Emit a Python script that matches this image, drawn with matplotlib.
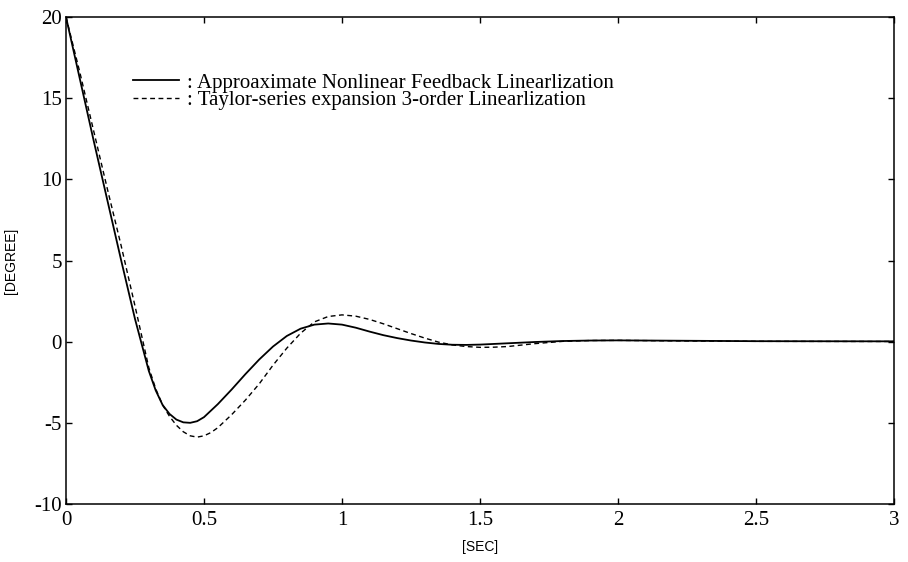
import matplotlib
matplotlib.use("Agg")
import matplotlib.pyplot as plt

plt.rcParams["axes.unicode_minus"] = False

# time in seconds, angle in degrees
t_nfl = [0.00, 0.05, 0.10, 0.15, 0.20, 0.25, 0.30, 0.325, 0.35, 0.375, 0.40, 0.425,
         0.45, 0.475, 0.50, 0.55, 0.60, 0.65, 0.70, 0.75, 0.80, 0.85, 0.90, 0.95,
         1.00, 1.05, 1.10, 1.15, 1.20, 1.25, 1.30, 1.35, 1.40, 1.45, 1.50, 1.60,
         1.70, 1.80, 1.90, 2.00, 2.20, 2.50, 3.00]
y_nfl = [20.0, 16.2, 12.4, 8.7, 5.0, 1.4, -1.8, -3.0, -3.9, -4.45, -4.8, -4.97,
         -5.0, -4.9, -4.65, -3.85, -2.95, -2.0, -1.1, -0.3, 0.35, 0.8, 1.05, 1.12,
         1.05, 0.86, 0.62, 0.4, 0.22, 0.07, -0.05, -0.14, -0.19, -0.2, -0.18, -0.1,
         -0.02, 0.04, 0.07, 0.08, 0.06, 0.03, 0.02]

t_taylor = [0.00, 0.05, 0.10, 0.15, 0.20, 0.25, 0.30, 0.325, 0.35, 0.375, 0.40, 0.425,
            0.45, 0.475, 0.50, 0.525, 0.55, 0.60, 0.65, 0.70, 0.75, 0.80, 0.85, 0.90,
            0.95, 1.00, 1.05, 1.10, 1.15, 1.20, 1.25, 1.30, 1.35, 1.40, 1.45, 1.50,
            1.55, 1.60, 1.70, 1.80, 1.90, 2.00, 2.20, 2.50, 3.00]
y_taylor = [20.0, 16.6, 13.0, 9.4, 5.9, 2.2, -1.6, -2.9, -3.9, -4.6, -5.15, -5.55,
            -5.8, -5.88, -5.8, -5.6, -5.3, -4.5, -3.6, -2.6, -1.45, -0.4, 0.52, 1.22,
            1.55, 1.65, 1.57, 1.37, 1.1, 0.8, 0.5, 0.22, -0.03, -0.2, -0.3, -0.35,
            -0.34, -0.3, -0.12, 0.02, 0.07, 0.08, 0.05, 0.02, 0.01]

labels = [": Approaximate Nonlinear Feedback Linearlization",
          ": Taylor-series expansion 3-order Linearlization"]

serif = ["Liberation Serif", "DejaVu Serif"]
sans = ["Liberation Sans", "DejaVu Sans"]

fig = plt.figure(figsize=(9.08, 5.62), dpi=100)
ax = fig.add_axes([66 / 908, 1 - 504 / 562, 828 / 908, 487 / 562])

ax.plot(t_nfl, y_nfl, color="black", lw=1.3, label=labels[0])
ax.plot(t_taylor, y_taylor, color="black", lw=1.0, dashes=(3.5, 2.5), label=labels[1])

ax.set_xlim(0, 3)
ax.set_ylim(-10, 20)
ax.set_xticks([0, 0.5, 1, 1.5, 2, 2.5, 3])
ax.set_xticklabels(["0", "0.5", "1", "1.5", "2", "2.5", "3"])
ax.set_yticks([-10, -5, 0, 5, 10, 15, 20])
ax.set_yticklabels(["-10", "-5", "0", "5", "10", "15", "20"])
ax.tick_params(direction="in", length=4, width=1, top=True, right=True,
               labelsize=15)
ax.tick_params(axis="x", pad=5)
ax.tick_params(axis="y", pad=3)
for lab in ax.get_xticklabels() + ax.get_yticklabels():
    lab.set_family(serif)
for sp in ax.spines.values():
    sp.set_linewidth(1.1)

ax.set_xlabel("[SEC]", family=sans, fontsize=10, labelpad=7)
ax.set_ylabel("[DEGREE]", family=sans, fontsize=10, labelpad=12)

ax.legend(loc="upper left", bbox_to_anchor=(0.081, 0.885), frameon=False,
          prop={"family": serif, "size": 15}, handlelength=2.2,
          handletextpad=0.4, labelspacing=-0.1, borderpad=0, borderaxespad=0)

fig.savefig("out.png", dpi=100)
